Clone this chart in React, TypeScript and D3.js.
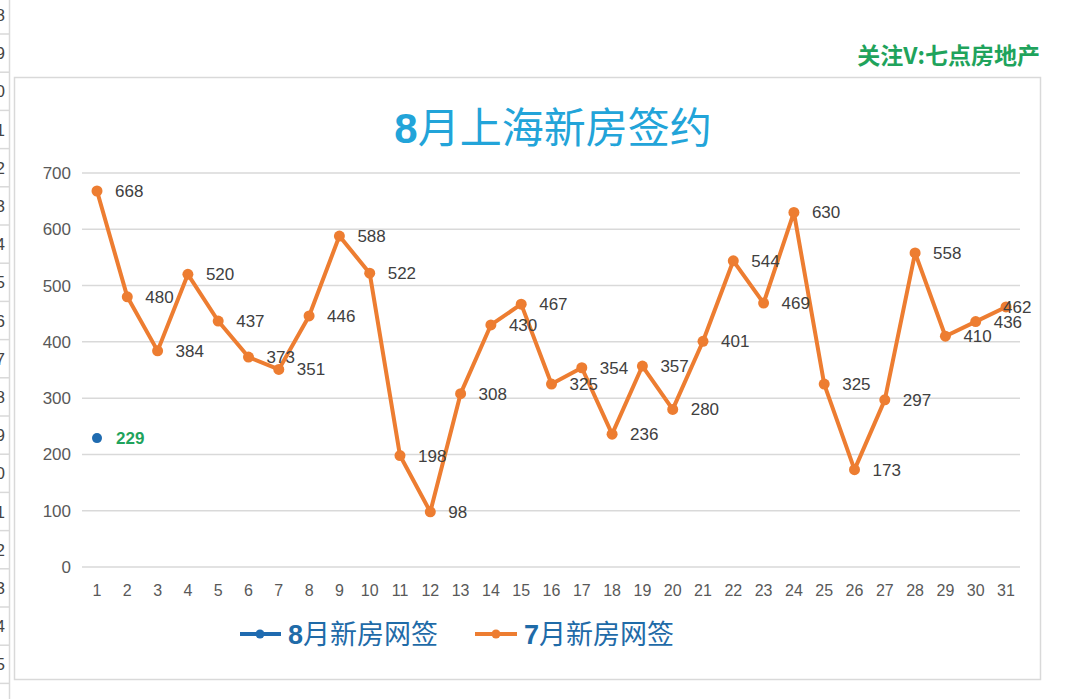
import * as d3 from 'd3';

// 7月 daily new-home signings (days 1..31)
const days = d3.range(1, 32);
const julyValues = [
  668, 480, 384, 520, 437, 373, 351, 446, 588, 522, 198, 98, 308, 430, 467, 325,
  354, 236, 357, 280, 401, 544, 469, 630, 325, 173, 297, 558, 410, 436, 462,
];
// 8月 so far: only day 1
const augustValues = [229];
const yTicks = [0, 100, 200, 300, 400, 500, 600, 700];
// spreadsheet row headers peeking in at the left edge
const rowNumbers = d3.range(18, 36);

const W = 1080;
const H = 699;
const ORANGE = '#ED7D31';
const BLUE = '#1F6BB0';
const NUM_FONT = '"Liberation Sans", Arial, sans-serif';
const CJK_FONT = '"Noto Sans CJK SC", "Liberation Sans", sans-serif';

export default function App() {
  const x = d3.scaleLinear().domain([1, 31]).range([97, 1006]);
  const y = d3.scaleLinear().domain([0, 700]).range([567, 173]);

  const line = d3.line<number>()
    .x((_, i) => x(days[i]))
    .y(d => y(d));

  const rowY = d3.scaleLinear().domain([18, 19]).range([15, 53.2]);

  return (
    <svg
      width={W}
      height={H}
      style={{ position: 'absolute', left: 0, top: 0, background: '#fff' }}
    >
      {/* row header strip */}
      <line x1={9.5} x2={9.5} y1={0} y2={H} stroke="#d9d9d9" strokeWidth={1.5} />
      {rowNumbers.map(r => (
        <g key={r}>
          <line x1={0} x2={9} y1={rowY(r) + 19} y2={rowY(r) + 19} stroke="#d9d9d9" strokeWidth={1.5} />
          <text
            x={5}
            y={rowY(r) + 6}
            textAnchor="end"
            fontFamily={NUM_FONT}
            fontSize={17}
            fill="#444"
          >
            {r}
          </text>
        </g>
      ))}

      {/* watermark */}
      <text
        x={1040}
        y={64}
        textAnchor="end"
        fontFamily={CJK_FONT}
        fontWeight={700}
        fontSize={23}
        fill="#1FA35C"
      >
        关注V:七点房地产
      </text>

      {/* chart frame */}
      <rect x={14.5} y={77.5} width={1026} height={602} fill="#fff" stroke="#d9d9d9" strokeWidth={1.5} />

      {/* title */}
      <text
        x={553}
        y={143}
        textAnchor="middle"
        fontFamily={CJK_FONT}
        fontSize={42}
        fill="#22A4D9"
      >
        <tspan fontFamily={NUM_FONT} fontWeight={700}>8</tspan>月上海新房签约
      </text>

      {/* gridlines + y axis labels */}
      {yTicks.map(t => (
        <g key={t}>
          <line x1={82} x2={1020} y1={y(t)} y2={y(t)} stroke="#d9d9d9" strokeWidth={1.5} />
          <text
            x={71}
            y={y(t)}
            dy="0.35em"
            textAnchor="end"
            fontFamily={NUM_FONT}
            fontSize={17}
            fill="#595959"
          >
            {t}
          </text>
        </g>
      ))}

      {/* x axis labels */}
      {days.map(d => (
        <text
          key={d}
          x={x(d)}
          y={596}
          textAnchor="middle"
          fontFamily={NUM_FONT}
          fontSize={16}
          fill="#595959"
        >
          {d}
        </text>
      ))}

      {/* July series */}
      <path d={line(julyValues) ?? ''} fill="none" stroke={ORANGE} strokeWidth={4} strokeLinejoin="round" />
      {julyValues.map((v, i) => (
        <circle key={i} cx={x(days[i])} cy={y(v)} r={5.5} fill={ORANGE} />
      ))}
      {julyValues.map((v, i) => {
        const lx = Math.min(x(days[i]) + 18, 1003);
        return (
          <text
            key={i}
            x={lx}
            y={y(v)}
            dy="0.35em"
            fontFamily={NUM_FONT}
            fontSize={17}
            fill="#404040"
          >
            {v}
          </text>
        );
      })}

      {/* August series */}
      {augustValues.map((v, i) => (
        <g key={i}>
          <circle cx={x(days[i])} cy={y(v)} r={5} fill={BLUE} />
          <text
            x={x(days[i]) + 19}
            y={y(v)}
            dy="0.35em"
            fontFamily={NUM_FONT}
            fontWeight={700}
            fontSize={17}
            fill="#1FA35C"
          >
            {v}
          </text>
        </g>
      ))}

      {/* legend */}
      <g>
        <line x1={240} x2={281} y1={634} y2={634} stroke={BLUE} strokeWidth={4} />
        <circle cx={260} cy={634} r={4.5} fill={BLUE} />
        <text x={288} y={644} fontFamily={CJK_FONT} fontSize={27} fill="#1F6BA8">
          <tspan fontFamily={NUM_FONT} fontWeight={700}>8</tspan>月新房网签
        </text>
        <line x1={475} x2={517} y1={634} y2={634} stroke={ORANGE} strokeWidth={4} />
        <circle cx={496} cy={634} r={4.5} fill={ORANGE} />
        <text x={524} y={644} fontFamily={CJK_FONT} fontSize={27} fill="#1F6BA8">
          <tspan fontFamily={NUM_FONT} fontWeight={700}>7</tspan>月新房网签
        </text>
      </g>
    </svg>
  );
}
